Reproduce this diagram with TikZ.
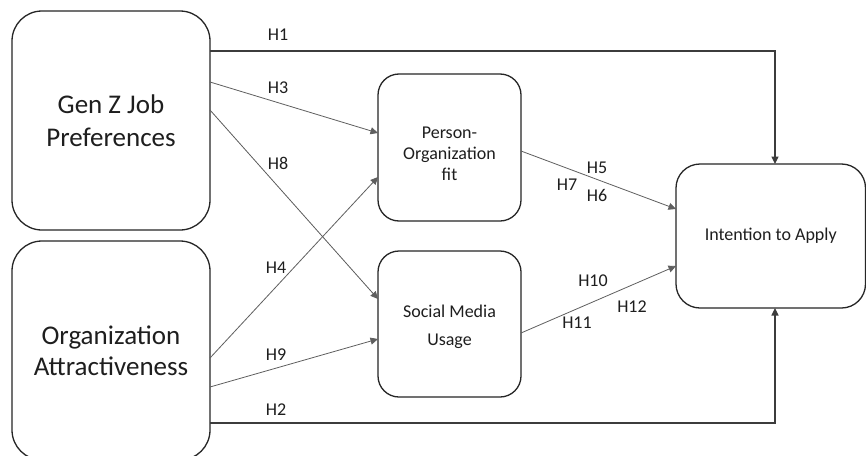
\documentclass[tikz,border=0pt]{standalone}
\usepackage{fontspec}
\setmainfont{Carlito}
\usetikzlibrary{arrows.meta}
\definecolor{boxc}{RGB}{38,38,38}
\definecolor{txt}{RGB}{30,30,30}
\definecolor{linec}{RGB}{95,95,95}
\begin{document}
\begin{tikzpicture}[x=1pt,y=-1pt,
  box/.style={draw=boxc, line width=1.3pt, rounded corners=#1, align=center,
    text=txt, inner sep=0pt, outer sep=0pt},
  box/.default=20pt,
  inlab/.style={text=txt, align=center, inner sep=0pt},
  hlab/.style={text=txt, font=\fontsize{18}{20}\selectfont, inner sep=0pt},
  conn/.style={draw=linec, line width=0.8pt, -{Triangle[length=7.5pt,width=7pt]}},
  mainconn/.style={draw=boxc!90, line width=1.2pt, -{Triangle[length=7.5pt,width=7pt]}}]
\useasboundingbox (0,0) rectangle (866,455);
\clip (0,0) rectangle (866,455);
\fill[white] (0,0) rectangle (866,455);

% boxes
\node[box=30pt, minimum width=198pt, minimum height=219pt,
  font=\fontsize{27}{33}\selectfont] (genz) at (111,120.5) {Gen Z Job\\Preferences};
\node[box=30pt, minimum width=198pt, minimum height=219pt,
  font=\fontsize{27}{31}\selectfont] (org) at (111,350.5) {Organization\\Attractiveness};
\node[box=21pt, minimum width=143pt, minimum height=147pt,
  label={[inlab, font=\fontsize{18}{21}\selectfont, yshift=-6pt]center:Person-\\Organization\\fit}]
  (po) at (449.5,147.5) {};
\node[box=21pt, minimum width=143pt, minimum height=146pt,
  label={[inlab, font=\fontsize{18}{28}\selectfont, yshift=-3pt]center:Social Media\\Usage}]
  (smu) at (449.5,324) {};
\node[box=24pt, minimum width=189.5pt, minimum height=144pt,
  font=\fontsize{18}{21}\selectfont] (ita) at (770.75,236) {Intention to Apply};

% connectors
\draw[mainconn] (genz.east |- 0,51) -| (ita.north -| 775,0);
\draw[mainconn] (org.east |- 0,423) -| (ita.south -| 775,0);
\draw[conn] (genz.east |- 0,82) -- (po.west |- 0,133);
\draw[conn] (genz.east |- 0,110) -- (smu.west |- 0,299);
\draw[conn] (org.east |- 0,358) -- (po.west |- 0,177);
\draw[conn] (org.east |- 0,387) -- (smu.west |- 0,339);
\draw[conn] (po.east |- 0,151) -- (ita.west |- 0,209);
\draw[conn] (smu.east |- 0,333) -- (ita.west |- 0,266);

% labels
\node[hlab] (l1) at (278,35) {H1};
\node[hlab] (l3) at (278,88) {H3};
\node[hlab] (l8) at (278,163) {H8};
\node[hlab] (l4) at (276,268) {H4};
\node[hlab] (l9) at (276,355) {H9};
\node[hlab] (l2) at (276,410) {H2};
\node[hlab] (l5) at (597,168) {H5};
\node[hlab] (l7) at (567,185) {H7};
\node[hlab] (l6) at (597,195) {H6};
\node[hlab] (l10) at (593,281) {H10};
\node[hlab] (l12) at (632,307) {H12};
\node[hlab] (l11) at (577,323) {H11};
\end{tikzpicture}
\end{document}
